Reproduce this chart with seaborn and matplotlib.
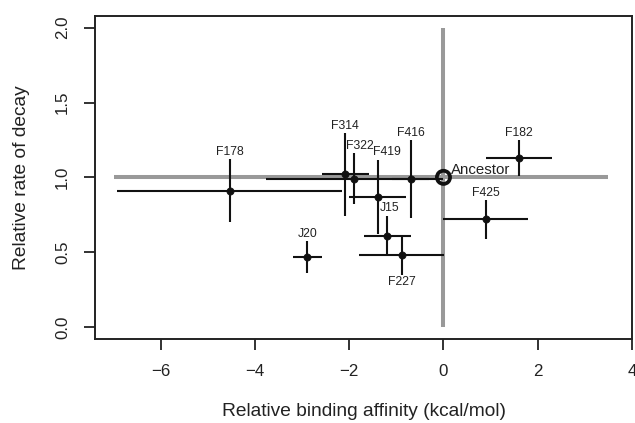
import matplotlib
matplotlib.use("Agg")
import matplotlib.pyplot as plt
import seaborn as sns
import pandas as pd

# Variants: binding affinity vs decay rate, relative to the ancestor
names = ["F178", "F314", "F322", "F419", "F416", "J15", "F227", "J20", "F182", "F425"]
affinity = [-4.54, -2.09, -1.89, -1.40, -0.70, -1.19, -0.89, -2.89, 1.60, 0.90]
decay = [0.91, 1.02, 0.99, 0.87, 0.99, 0.61, 0.48, 0.47, 1.13, 0.72]
affinity_err = [2.39, 0.50, 1.88, 0.60, 0.40, 0.50, 0.90, 0.30, 0.70, 0.90]
decay_err = [0.21, 0.277, 0.17, 0.248, 0.26, 0.135, 0.135, 0.106, 0.12, 0.13]

ancestor_name = "Ancestor"
ancestor_affinity = [0.0]
ancestor_decay = [1.0]

x_ticks = [-6, -4, -2, 0, 2, 4]
y_ticks = [0.0, 0.5, 1.0, 1.5, 2.0]

df = pd.DataFrame({"name": names, "affinity": affinity, "decay": decay,
                   "affinity_err": affinity_err, "decay_err": decay_err})
anc = pd.DataFrame({"affinity": ancestor_affinity, "decay": ancestor_decay})

sns.set_style("white")
plt.rcParams["font.family"] = ["Liberation Sans", "DejaVu Sans"]

fig = plt.figure(figsize=(6.35, 4.23), dpi=100)
ax = fig.add_axes([95 / 635, 84 / 423, 537.3 / 635, 323.3 / 423])

# reference lines through the ancestor
ax.plot([-7, 3.5], [1, 1], color="#999999", lw=2.9, solid_capstyle="butt", zorder=1)
ax.plot([0, 0], [0, 2], color="#999999", lw=2.9, solid_capstyle="butt", zorder=1)

# error bars
ax.errorbar(df["affinity"], df["decay"], xerr=df["affinity_err"], yerr=df["decay_err"],
            fmt="none", ecolor="#111111", elinewidth=1.5, capsize=0, zorder=2)

sns.scatterplot(data=df, x="affinity", y="decay", ax=ax, color="#111111",
                s=27, edgecolor="#111111", linewidth=0.5, zorder=3, legend=False)
sns.scatterplot(data=anc, x="affinity", y="decay", ax=ax, s=90, facecolor="none",
                edgecolor="#111111", linewidth=2.7, zorder=4, legend=False)

# label nudges in pixels (dx); labels sit above the error bar, F227 below
nudge = {"F322": 5, "F419": 9.5, "J15": 2}
below = {"F227"}
for _, r in df.iterrows():
    dx = nudge.get(r["name"], 0) * 0.72
    if r["name"] in below:
        ax.annotate(r["name"], (r["affinity"], r["decay"] - r["decay_err"]),
                    xytext=(dx, -7.0 * 0.72), textcoords="offset points",
                    ha="center", va="center", fontsize=8.8, color="#222222")
    else:
        ax.annotate(r["name"], (r["affinity"], r["decay"] + r["decay_err"]),
                    xytext=(dx, 7.3 * 0.72), textcoords="offset points",
                    ha="center", va="center", fontsize=8.8, color="#222222")

ax.annotate(ancestor_name, (ancestor_affinity[0], ancestor_decay[0]),
            xytext=(7.4 * 0.72, 7.3 * 0.72), textcoords="offset points",
            ha="left", va="center", fontsize=10.8, color="#222222")

ax.set_xlim(-7.40, 4.01)
ax.set_ylim(-0.08, 2.08)
ax.set_xticks(x_ticks)
ax.set_xticklabels(["\u2212" + str(-t) if t < 0 else str(t) for t in x_ticks])
ax.set_yticks(y_ticks)
ax.set_yticklabels([f"{t:.1f}" for t in y_ticks])

for s in ax.spines.values():
    s.set_color("#222222")
    s.set_linewidth(1.4)

ax.tick_params(axis="both", direction="out", length=8, width=1.3, color="#222222",
               labelsize=12.2, labelcolor="#222222", pad=10, bottom=True, left=True)
for lab in ax.get_yticklabels():
    lab.set_rotation(90)
    lab.set_va("center")
    lab.set_ha("right")

ax.set_xlabel("Relative binding affinity (kcal/mol)", fontsize=13.8, color="#222222")
ax.set_ylabel("Relative rate of decay", fontsize=13.8, color="#222222")
ax.xaxis.set_label_coords(0.5, (339 - 411) / 323.3)
ax.xaxis.label.set_va("center")
ax.yaxis.set_label_coords((21 - 95) / 537.3, 0.5)
ax.yaxis.label.set_va("center")

fig.savefig("out.png", dpi=100)
